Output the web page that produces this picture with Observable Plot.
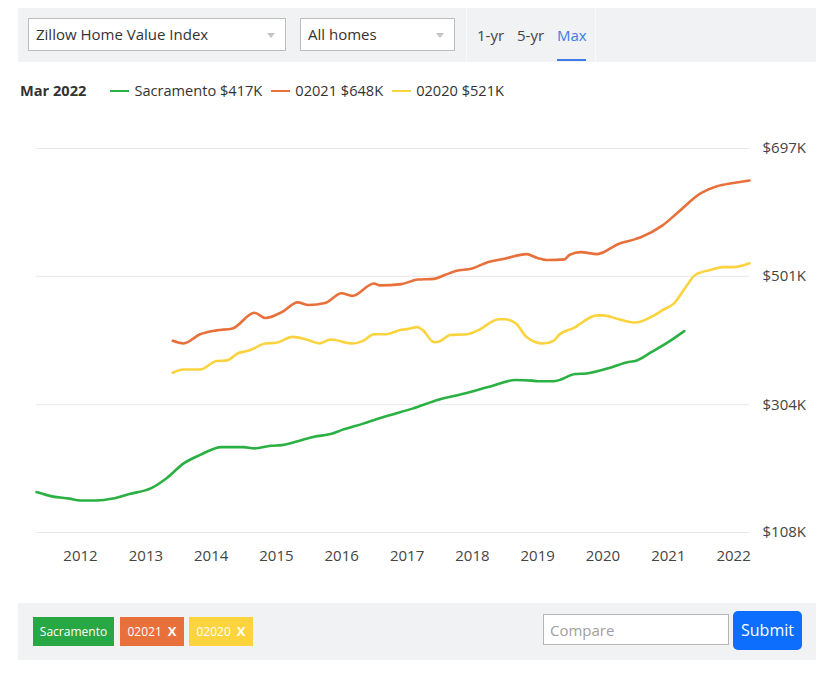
<!DOCTYPE html>
<html>
<head>
<meta charset="utf-8">
<script src="https://cdn.jsdelivr.net/npm/d3@7"></script>
<script src="https://cdn.jsdelivr.net/npm/@observablehq/plot@0.6"></script>
<style>
  html, body { margin: 0; padding: 0; background: #fff; }
  body { width: 838px; height: 677px; position: relative; overflow: hidden; font-family: "Open Sans", sans-serif; color: #333; }
  .abs { position: absolute; }
  .bar { background: #f1f2f4; }
  .select { background: #fff; border: 1px solid #bdbdbd; box-sizing: border-box; font-size: 15px; color: #333; line-height: 31px; padding-left: 7px; }
  .select .tri { position: absolute; right: 10px; top: 14px; width: 0; height: 0; border-left: 4px solid transparent; border-right: 4px solid transparent; border-top: 5px solid #c4c4c4; }
  .tab { font-size: 15px; color: #444; top: 25px; }
  .legend { top: 80px; font-size: 14.6px; color: #333; white-space: nowrap; }
  .swatch { display: inline-block; width: 19px; height: 2.5px; vertical-align: middle; margin: 0 5px 0 0; position: relative; top: -1px; }
  .chip { top: 617px; height: 29px; line-height: 29px; font-size: 12px; color: #fff; text-align: center; box-sizing: border-box; }
  .chip b { font-weight: 700; margin-left: 6px; font-size: 13px; }
</style>
</head>
<body>
<div class="abs bar" style="left:18px; top:8px; width:798px; height:54px;"></div>
<div class="abs" style="left:466px; top:8px; width:1px; height:54px; background:#fafafa;"></div>
<div class="abs" style="left:595px; top:8px; width:1px; height:54px; background:#fafafa;"></div>
<div class="abs select" style="left:28px; top:18px; width:258px; height:33px;">Zillow Home Value Index<div class="tri"></div></div>
<div class="abs select" style="left:300px; top:18px; width:155px; height:33px;">All homes<div class="tri"></div></div>
<div class="abs tab" style="left:477px;">1-yr</div>
<div class="abs tab" style="left:517px;">5-yr</div>
<div class="abs tab" style="left:557px; color:#3d7bea;">Max</div>
<div class="abs" style="left:557px; top:59px; width:29px; height:2px; background:#3d7bea;"></div>

<div class="abs legend" id="legend" style="left:20px;"></div>

<div class="abs" id="chart" style="left:0; top:110px;"></div>

<div class="abs bar" style="left:18px; top:603px; width:798px; height:57px;"></div>
<div class="abs chip" style="left:33px; width:81px; background:#28a745;">Sacramento</div>
<div class="abs chip" style="left:120px; width:64px; background:#e8703a;">02021<b>X</b></div>
<div class="abs chip" style="left:189px; width:64px; background:#fdd43d;">02020<b>X</b></div>
<div class="abs" style="left:543px; top:614px; width:186px; height:31px; background:#fff; border:1px solid #b5b5b5; box-sizing:border-box; font-size:15px; color:#a0a0a0; line-height:31px; padding-left:6px;">Compare</div>
<div class="abs" style="left:733px; top:611px; width:69px; height:39px; background:#0d6efd; border-radius:5px; color:#fff; font-size:16px; line-height:39px; text-align:center;">Submit</div>

<script>
// ---- data (month-end values, $K) ----
const sacDates = ["2011-04","2011-07","2011-10","2011-12","2012-03","2012-06","2012-09","2013-01","2013-04","2013-07","2013-10","2014-02","2014-06","2014-08","2014-11","2015-01","2015-04","2015-07","2015-10","2015-12","2016-04","2016-08","2017-01","2017-06","2017-10","2018-03","2018-08","2018-11","2018-12","2019-03","2019-07","2019-09","2020-01","2020-05","2020-06","2020-09","2020-12","2021-03"];
const sacValues = [170,163,160,157,157,160,167,176,192,214,227,239,239,237,241,242,248,255,259,265,275,286,298,312,320,331,342,341,340,340,351,352,360,370,371,385,400,417];

const z21Dates = ["2013-05","2013-07","2013-10","2014-01","2014-04","2014-08","2014-10","2015-01","2015-04","2015-06","2015-09","2015-12","2016-02","2016-06","2016-07","2016-11","2017-02","2017-05","2017-07","2017-09","2017-12","2018-03","2018-06","2018-10","2018-12","2019-02","2019-05","2019-06","2019-08","2019-11","2020-03","2020-06","2020-07","2020-11","2021-02","2021-06","2021-09","2021-12","2022-03"];
const z21Values = [402,398,412,418,421,445,437,446,461,457,460,475,471,490,487,489,496,497,503,509,513,523,528,535,529,526,527,534,538,535,551,558,561,579,600,628,639,644,648];

const z20Dates = ["2013-05","2013-07","2013-10","2014-01","2014-03","2014-05","2014-07","2014-10","2014-12","2015-03","2015-06","2015-08","2015-10","2016-02","2016-04","2016-06","2016-08","2016-11","2016-12","2017-02","2017-03","2017-05","2017-06","2017-08","2017-11","2018-01","2018-05","2018-06","2018-08","2018-10","2019-01","2019-03","2019-04","2019-07","2019-08","2019-11","2019-12","2020-03","2020-06","2020-09","2020-11","2021-01","2021-03","2021-05","2021-08","2021-10","2021-12","2022-03"];
const z20Values = [353,358,358,371,372,383,387,398,399,408,403,398,404,398,402,412,412,419,420,423,418,400,401,411,412,418,435,435,429,408,398,402,411,423,429,441,441,435,430,439,449,459,481,503,511,515,515,521];

const seriesNames = ["Sacramento", "02021", "02020"];
const seriesColors = ["#2bb043", "#e8703a", "#fbd33f"];
const yTicks = [108, 304, 501, 697];
const xTicks = ["2012","2013","2014","2015","2016","2017","2018","2019","2020","2021","2022"];
const legendMonth = "Mar 2022";

// ---- build ----
const monthEnd = s => { const [y, m] = s.split("-").map(Number); return new Date(Date.UTC(y, m, 0)); };
const build = (name, dates, values) => dates.map((d, i) => ({series: name, date: monthEnd(d), value: values[i]}));
const all = [
  ...build(seriesNames[0], sacDates, sacValues),
  ...build(seriesNames[1], z21Dates, z21Values),
  ...build(seriesNames[2], z20Dates, z20Values)
];
const lastVals = [sacValues, z21Values, z20Values].map(v => v[v.length - 1]);

const legend = document.getElementById("legend");
legend.innerHTML = `<b style="margin-right:24px;">${legendMonth}</b>` + seriesNames.map((n, i) =>
  `<span style="margin-right:9px;"><span class="swatch" style="background:${seriesColors[i]}"></span>${n} $${lastVals[i]}K</span>`).join("");

const chart = Plot.plot({
  width: 838,
  height: 470,
  marginLeft: 36,
  marginRight: 89,
  marginTop: 38,
  marginBottom: 48,
  style: {fontFamily: "Open Sans, sans-serif", fontSize: "15px", color: "#444", background: "transparent"},
  x: {type: "utc", domain: d3.extent(all, d => d.date)},
  y: {domain: [yTicks[0], yTicks[yTicks.length - 1]]},
  color: {domain: seriesNames, range: seriesColors},
  marks: [
    Plot.gridY(yTicks, {stroke: "#e9e9ec", strokeOpacity: 1, strokeWidth: 1}),
    Plot.axisY(yTicks, {anchor: "right", tickSize: 0, tickPadding: 13, tickFormat: d => `$${d}K`, label: null, fill: "#444"}),
    Plot.axisX(xTicks.map(y => new Date(Date.UTC(+y, 0, 1))), {anchor: "bottom", tickSize: 0, tickPadding: 18, tickFormat: d3.utcFormat("%Y"), label: null, fill: "#444"}),
    Plot.line(all, {x: "date", y: "value", z: "series", stroke: "series", strokeWidth: 2.6, curve: "monotone-x"})
  ]
});
document.getElementById("chart").appendChild(chart);
</script>
</body>
</html>
